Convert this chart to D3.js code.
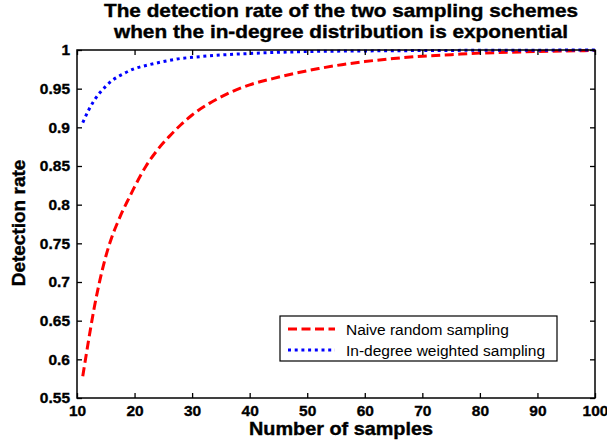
<!DOCTYPE html>
<html>
<head>
<meta charset="utf-8">
<script src="https://cdn.jsdelivr.net/npm/d3@7"></script>
<style>
  body { margin: 0; background: #fff; }
  text { font-family: "Liberation Sans", Arial, sans-serif; }
</style>
</head>
<body>
<div id="chart"></div>
<script>
// values
const naiveX = [11, 12, 13, 14, 15, 16, 17, 18, 19, 20, 22, 24, 26, 28, 30, 33, 36, 40, 44, 48, 52, 56, 60, 65, 70, 75, 80, 85, 90, 95, 100];
const naiveY = [0.578, 0.624, 0.667, 0.703, 0.733, 0.757, 0.776, 0.793, 0.808, 0.823, 0.850, 0.871, 0.888, 0.903, 0.916, 0.931, 0.943, 0.955, 0.963, 0.970, 0.976, 0.981, 0.985, 0.989, 0.992, 0.994, 0.996, 0.997, 0.998, 0.9988, 0.9993];
const weightedX = [11, 12, 13, 14, 15, 16, 17, 18, 20, 22, 25, 28, 30, 35, 40, 45, 50, 60, 70, 80, 90, 100];
const weightedY = [0.906, 0.922, 0.935, 0.945, 0.953, 0.960, 0.965, 0.969, 0.976, 0.980, 0.985, 0.989, 0.9905, 0.9935, 0.9955, 0.997, 0.998, 0.9988, 0.9993, 0.9996, 0.9998, 0.9999];
const xTicks = [10, 20, 30, 40, 50, 60, 70, 80, 90, 100];
const yTicks = [0.55, 0.6, 0.65, 0.7, 0.75, 0.8, 0.85, 0.9, 0.95, 1];
const seriesNames = ["Naive random sampling", "In-degree weighted sampling"];
const titleLines = ["The detection rate of the two sampling schemes", "when the in-degree distribution is exponential"];

const W = 607, H = 444;
const plotL = 77, plotR = 595, plotT = 50, plotB = 398;

const svg = d3.select("#chart").append("svg")
  .attr("width", W)
  .attr("height", H);

const x = d3.scaleLinear().domain([10, 100]).range([plotL, plotR]);
const y = d3.scaleLinear().domain([0.55, 1]).range([plotB, plotT]);

// curves (drawn first, box goes on top)
const line = d3.line()
  .x(d => x(d[0]))
  .y(d => y(d[1]))
  .curve(d3.curveMonotoneX);

svg.append("path")
  .datum(d3.zip(naiveX, naiveY))
  .attr("d", line)
  .attr("fill", "none")
  .attr("stroke", "#ff0000")
  .attr("stroke-width", 3)
  .attr("stroke-dasharray", "9,4.5");

svg.append("path")
  .datum(d3.zip(weightedX, weightedY))
  .attr("d", line)
  .attr("fill", "none")
  .attr("stroke", "#0000ff")
  .attr("stroke-width", 3)
  .attr("stroke-dasharray", "3,3.7");

// axes, ticks pointing inward on all four sides
function styleAxis(g) {
  g.select(".domain").remove();
  g.selectAll(".tick line").attr("stroke", "#000").attr("stroke-width", 1.3);
  g.selectAll("text")
    .attr("fill", "#000")
    .attr("stroke", "#000")
    .attr("stroke-width", 0.35)
    .style("font-size", "15.5px")
    .style("font-weight", "bold")
    .style("font-family", "'Liberation Sans', Arial, sans-serif");
}

svg.append("g")
  .attr("transform", "translate(0," + plotB + ")")
  .call(d3.axisBottom(x).tickValues(xTicks).tickSizeInner(-5).tickSizeOuter(0).tickPadding(7))
  .call(styleAxis);

svg.append("g")
  .attr("transform", "translate(0," + plotT + ")")
  .call(d3.axisTop(x).tickValues(xTicks).tickSizeInner(-5).tickSizeOuter(0).tickFormat(""))
  .call(styleAxis);

svg.append("g")
  .attr("transform", "translate(" + plotL + ",0)")
  .call(d3.axisLeft(y).tickValues(yTicks).tickSizeInner(-5).tickSizeOuter(0).tickPadding(7)
    .tickFormat(d => String(+d.toFixed(2))))
  .call(styleAxis);

svg.append("g")
  .attr("transform", "translate(" + plotR + ",0)")
  .call(d3.axisRight(y).tickValues(yTicks).tickSizeInner(-5).tickSizeOuter(0).tickFormat(""))
  .call(styleAxis);

svg.append("rect")
  .attr("x", plotL).attr("y", plotT)
  .attr("width", plotR - plotL).attr("height", plotB - plotT)
  .attr("fill", "none")
  .attr("stroke", "#000")
  .attr("stroke-width", 1.5);

// title (stretched a little wider, like the original raster)
const titleWidths = [474, 454];
svg.append("g").selectAll("text")
  .data(titleLines)
  .enter().append("text")
  .attr("x", 341)
  .attr("y", (d, i) => 17 + i * 20.5)
  .attr("text-anchor", "middle")
  .attr("textLength", (d, i) => titleWidths[i])
  .attr("lengthAdjust", "spacingAndGlyphs")
  .attr("stroke", "#000")
  .attr("stroke-width", 0.4)
  .style("font-size", "19px")
  .style("font-weight", "bold")
  .text(d => d);

// axis labels
svg.append("text")
  .attr("x", 341).attr("y", 435)
  .attr("text-anchor", "middle")
  .attr("textLength", 184)
  .attr("lengthAdjust", "spacingAndGlyphs")
  .attr("stroke", "#000")
  .attr("stroke-width", 0.4)
  .style("font-size", "19px")
  .style("font-weight", "bold")
  .text("Number of samples");

svg.append("text")
  .attr("transform", "translate(25,223) rotate(-90)")
  .attr("text-anchor", "middle")
  .attr("stroke", "#000")
  .attr("stroke-width", 0.4)
  .style("font-size", "19px")
  .style("font-weight", "bold")
  .text("Detection rate");

// legend
const legend = svg.append("g");
legend.append("rect")
  .attr("x", 280).attr("y", 316)
  .attr("width", 277).attr("height", 45)
  .attr("fill", "#fff")
  .attr("stroke", "#000")
  .attr("stroke-width", 1.2);

const legendStyles = [
  { color: "#ff0000", dash: "9,4.5" },
  { color: "#0000ff", dash: "3,3.7" }
];

seriesNames.forEach((name, i) => {
  const ly = 329 + i * 21;
  legend.append("line")
    .attr("x1", 288).attr("x2", 335)
    .attr("y1", ly).attr("y2", ly)
    .attr("stroke", legendStyles[i].color)
    .attr("stroke-width", 3)
    .attr("stroke-dasharray", legendStyles[i].dash);
  legend.append("text")
    .attr("x", 346).attr("y", ly + 5.5)
    .style("font-size", "15.5px")
    .text(name);
});
</script>
</body>
</html>
